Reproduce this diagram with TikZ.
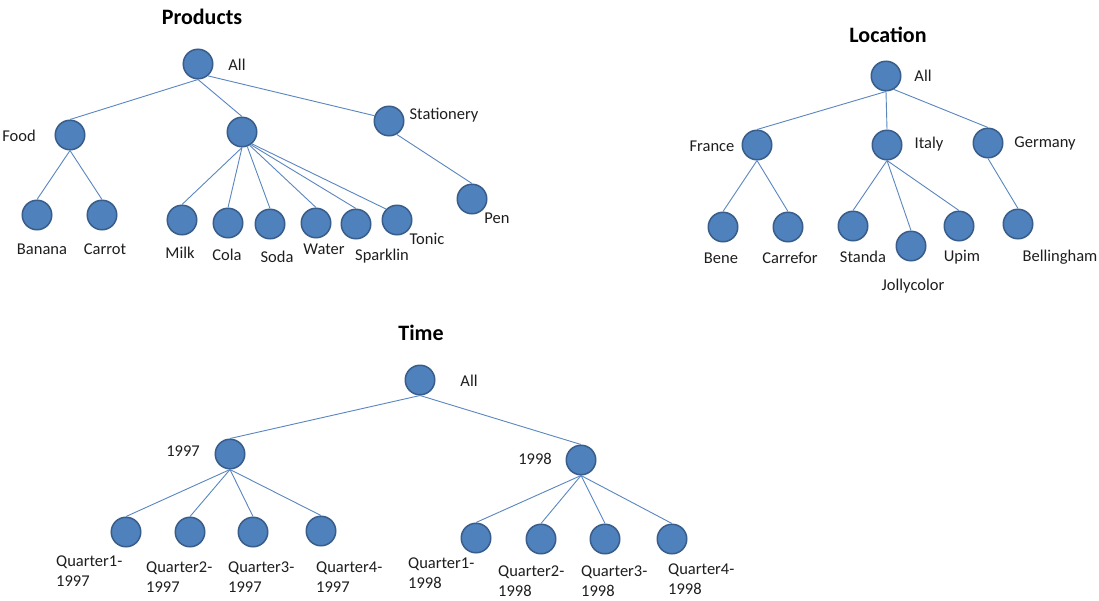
\documentclass[tikz,border=0pt]{standalone}
\usepackage{fontspec}
\setmainfont{Carlito}
\definecolor{nodefill}{HTML}{4F81BD}
\definecolor{nodeline}{HTML}{385D8A}
\definecolor{edgeline}{HTML}{5A86C0}
\definecolor{labeltext}{HTML}{1E1E1E}
\begin{document}
\begin{tikzpicture}[x=1pt,y=-1pt,
  dot/.style={circle,draw=nodeline,fill=nodefill,line width=1.5pt,minimum size=29.5pt,inner sep=0pt},
  lbl/.style={text=labeltext,inner sep=0pt,font=\fontsize{16.5}{19.5}\selectfont},
  qlbl/.style={lbl,align=left,anchor=west},
  ttl/.style={text=black,inner sep=0pt,font=\fontsize{22}{26}\selectfont\bfseries},
  edge/.style={draw=edgeline,line width=0.9pt}]
\useasboundingbox (0,0) rectangle (1099,600);
\fill[white] (0,0) rectangle (1099,600);

% ---------------- Products ----------------
\node[ttl] (tProd) at (202,17) {Products};
\node[dot] (pAll) at (198,64) {};
\node[dot] (pFood) at (70,135) {};
\node[dot] (pDrink) at (242,132) {};
\node[dot] (pSta) at (389,121) {};
\node[dot] (pBan) at (37,215) {};
\node[dot] (pCar) at (102,215) {};
\node[dot] (pMilk) at (182,220) {};
\node[dot] (pCola) at (228,223) {};
\node[dot] (pSoda) at (270,224) {};
\node[dot] (pWat) at (316,223) {};
\node[dot] (pSpa) at (356,224) {};
\node[dot] (pTon) at (397,220) {};
\node[dot] (pPen) at (472,199) {};

\node[lbl] (lpAll) at (237,65) {All};
\node[lbl] (lpFood) at (19,136) {Food};
\node[lbl] (lpSta) at (444,115) {Stationery};
\node[lbl] (lpBan) at (42,249) {Banana};
\node[lbl] (lpCar) at (105,249) {Carrot};
\node[lbl] (lpMilk) at (180,253) {Milk};
\node[lbl] (lpCola) at (227,255) {Cola};
\node[lbl] (lpSoda) at (277,257) {Soda};
\node[lbl] (lpWat) at (324,249) {Water};
\node[lbl] (lpSpa) at (382,256) {Sparklin};
\node[lbl] (lpTon) at (427,239) {Tonic};
\node[lbl] (lpPen) at (497,218) {Pen};

\draw[edge] (pAll.south) -- (pFood.north);
\draw[edge] (pAll.south) -- (pDrink.north);
\draw[edge] (pAll.-50) -- (pSta.160);
\draw[edge] (pFood.south) -- (pBan.north);
\draw[edge] (pFood.south) -- (pCar.north);
\draw[edge] (pDrink.south) -- (pMilk.north);
\draw[edge] (pDrink.south) -- (pCola.north);
\draw[edge] (pDrink.-70) -- (pSoda.north);
\draw[edge] (pDrink.-60) -- (pWat.north);
\draw[edge] (pDrink.-55) -- (pSpa.north);
\draw[edge] (pDrink.-50) -- (pTon.135);
\draw[edge] (pSta.-60) -- (pPen.north);

% ---------------- Location ----------------
\node[ttl] (tLoc) at (888,35) {Location};
\node[dot] (lAll) at (886,76) {};
\node[dot] (lFra) at (757,145) {};
\node[dot] (lIta) at (887,145) {};
\node[dot] (lGer) at (988,143) {};
\node[dot] (lBen) at (723,227) {};
\node[dot] (lCar) at (788,227) {};
\node[dot] (lSta) at (853,226) {};
\node[dot] (lJol) at (911,246) {};
\node[dot] (lUpi) at (959,226) {};
\node[dot] (lBel) at (1018,224) {};

\node[lbl] (llAll) at (923,76) {All};
\node[lbl] (llFra) at (712,146) {France};
\node[lbl] (llIta) at (929,144) {Italy};
\node[lbl] (llGer) at (1045,143) {Germany};
\node[lbl] (llBen) at (721,258) {Bene};
\node[lbl] (llCar) at (790,258) {Carrefor};
\node[lbl] (llSta) at (863,257) {Standa};
\node[lbl] (llJol) at (913,286) {Jollycolor};
\node[lbl] (llUpi) at (962,257) {Upim};
\node[lbl] (llBel) at (1060,257) {Bellingham};

\draw[edge] (lAll.south) -- (lFra.north);
\draw[edge] (lAll.south) -- (lIta.north);
\draw[edge] (lAll.-60) -- (lGer.north);
\draw[edge] (lFra.south) -- (lBen.north);
\draw[edge] (lFra.south) -- (lCar.north);
\draw[edge] (lIta.south) -- (lSta.north);
\draw[edge] (lIta.south) -- (lJol.north);
\draw[edge] (lIta.south) -- (lUpi.north);
\draw[edge] (lGer.south) -- (lBel.north);

% ---------------- Time ----------------
\node[ttl] (tTime) at (421,333) {Time};
\node[dot] (tAll) at (420,380) {};
\node[dot] (t97) at (230,454) {};
\node[dot] (t98) at (581,460) {};
\node[dot] (q197) at (126,532) {};
\node[dot] (q297) at (190,532) {};
\node[dot] (q397) at (253,532) {};
\node[dot] (q497) at (321,531) {};
\node[dot] (q198) at (476,538) {};
\node[dot] (q298) at (541,539) {};
\node[dot] (q398) at (605,539) {};
\node[dot] (q498) at (672,539) {};

\node[lbl] (ltAll) at (469,381) {All};
\node[lbl] (lt97) at (183,451) {1997};
\node[lbl] (lt98) at (535,459) {1998};
\node[qlbl] (lq197) at (56,571) {Quarter1-\\1997};
\node[qlbl] (lq297) at (146,577) {Quarter2-\\1997};
\node[qlbl] (lq397) at (228,577) {Quarter3-\\1997};
\node[qlbl] (lq497) at (316,577) {Quarter4-\\1997};
\node[qlbl] (lq198) at (408,573) {Quarter1-\\1998};
\node[qlbl] (lq298) at (498,581) {Quarter2-\\1998};
\node[qlbl] (lq398) at (581,581) {Quarter3-\\1998};
\node[qlbl] (lq498) at (668,579) {Quarter4-\\1998};

\draw[edge] (tAll.south) -- (t97.north);
\draw[edge] (tAll.south) -- (t98.north);
\draw[edge] (t97.south) -- (q197.north);
\draw[edge] (t97.south) -- (q297.north);
\draw[edge] (t97.south) -- (q397.north);
\draw[edge] (t97.south) -- (q497.north);
\draw[edge] (t98.south) -- (q198.north);
\draw[edge] (t98.south) -- (q298.north);
\draw[edge] (t98.south) -- (q398.north);
\draw[edge] (t98.south) -- (q498.north);
\end{tikzpicture}
\end{document}
